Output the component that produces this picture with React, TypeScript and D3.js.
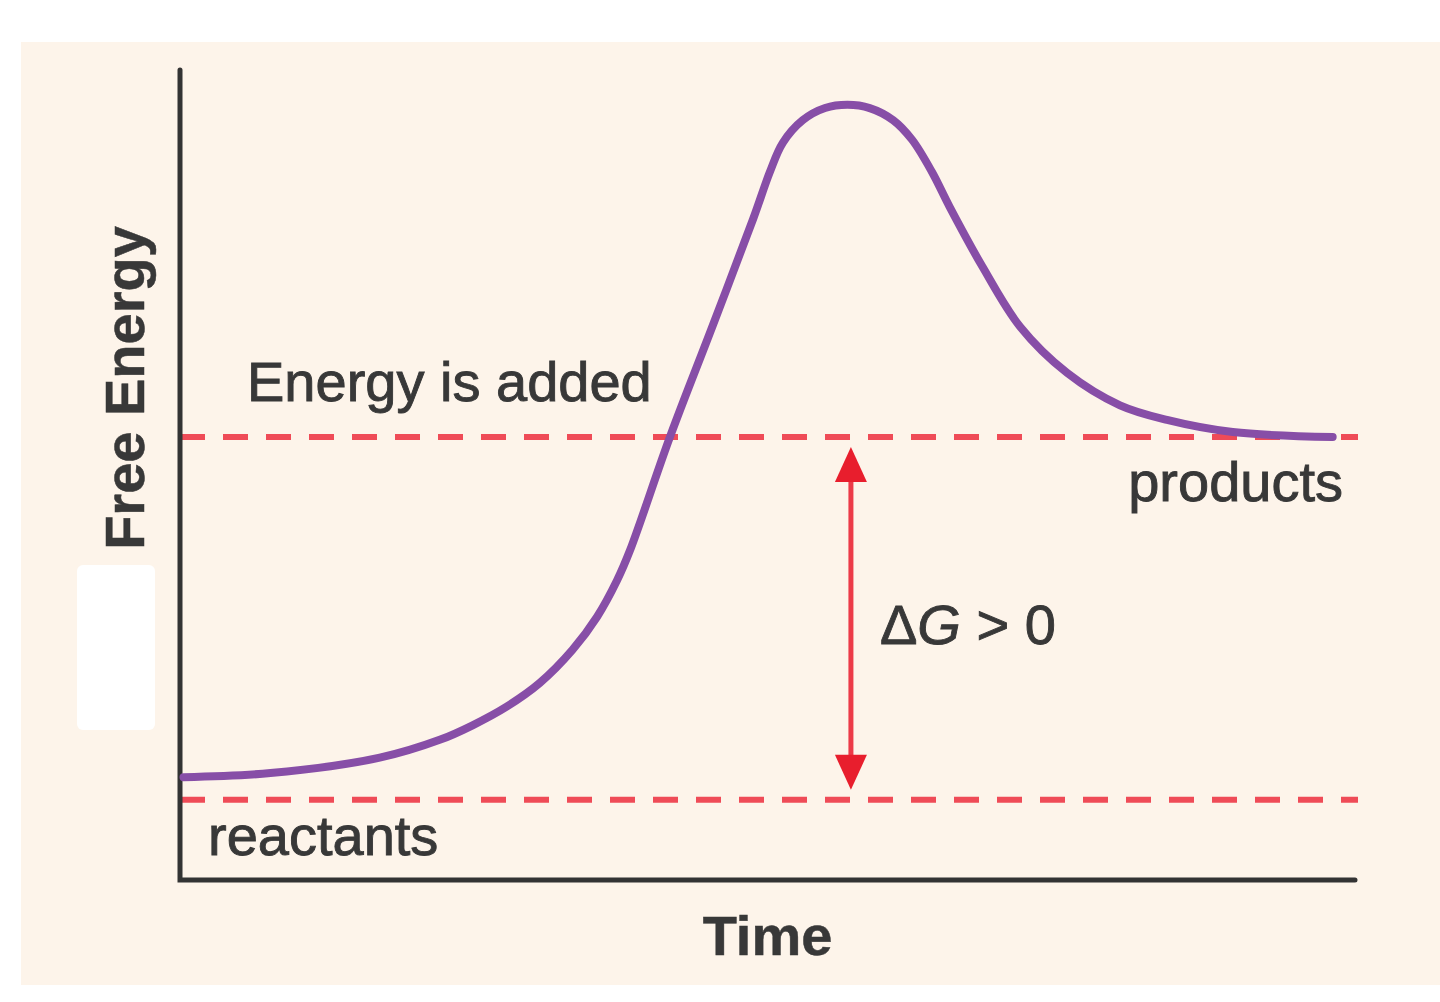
import { useEffect, useRef } from "react";
import * as d3 from "d3";

// curve (time vs free energy, both 0..100)
const TIME = [0.3, 7.7, 17.0, 22.1, 24.9, 27.8, 30.6, 33.4, 35.5, 37.2, 38.3, 41.7, 45.3, 48.8, 50.2, 51.3, 53.0, 54.9, 56.8, 58.7, 60.7, 62.3, 64.0, 65.5, 68.3, 71.5, 75.5, 80.0, 84.0, 89.6, 98.1];
const ENERGY = [12.7, 13.2, 15.1, 17.3, 19.1, 21.4, 24.3, 28.4, 32.5, 37.0, 40.7, 54.7, 68.3, 81.7, 87.4, 91.0, 93.8, 95.3, 95.7, 95.3, 93.8, 91.4, 87.4, 83.1, 75.7, 68.3, 62.6, 58.6, 56.8, 55.3, 54.7];

const REACTANTS_LEVEL = 9.9;
const PRODUCTS_LEVEL = 54.7;
const ARROW_TIME = 57.1;

const LABELS = {
  added: "Energy is added",
  products: "products",
  reactants: "reactants",
  xTitle: "Time",
  yTitle: "Free Energy",
};

export default function App() {
  const ref = useRef<SVGSVGElement>(null);

  useEffect(() => {
    const width = 1440;
    const height = 1002;
    const font = "'Liberation Sans', Arial, sans-serif";
    const textColor = "#383838";
    const fontSize = 56;

    const svg = d3.select(ref.current);
    svg.selectAll("*").remove();

    const x = d3.scaleLinear().domain([0, 100]).range([180, 1355]);
    const y = d3.scaleLinear().domain([0, 100]).range([880, 70]);

    // background panel
    svg.append("rect").attr("width", width).attr("height", height).attr("fill", "#ffffff");
    svg
      .append("rect")
      .attr("x", 21)
      .attr("y", 42)
      .attr("width", width - 21)
      .attr("height", 943)
      .attr("fill", "#fdf4ea");

    // white smudge left of the axis
    svg
      .append("rect")
      .attr("x", 77)
      .attr("y", 565)
      .attr("width", 78)
      .attr("height", 165)
      .attr("rx", 6)
      .attr("fill", "#ffffff");

    // dashed levels
    [PRODUCTS_LEVEL, REACTANTS_LEVEL].forEach((lvl) => {
      svg
        .append("line")
        .attr("x1", x(0))
        .attr("x2", x(100) + 3)
        .attr("y1", y(lvl))
        .attr("y2", y(lvl))
        .attr("stroke", "#ef4b57")
        .attr("stroke-width", 6)
        .attr("stroke-dasharray", "25 18");
    });

    // axes
    svg
      .append("path")
      .attr("d", `M${x(0)},${y(100)} V${y(0)} H${x(100)}`)
      .attr("fill", "none")
      .attr("stroke", "#333")
      .attr("stroke-width", 5)
      .attr("stroke-linecap", "round")
      .attr("stroke-linejoin", "miter");

    // energy curve
    const line = d3
      .line<number>()
      .x((_, i) => x(TIME[i]))
      .y((d) => y(d))
      .curve(d3.curveCatmullRom.alpha(0.5));

    svg
      .append("path")
      .attr("d", line(ENERGY))
      .attr("fill", "none")
      .attr("stroke", "#874ea7")
      .attr("stroke-width", 8)
      .attr("stroke-linecap", "round");

    // delta G double arrow
    const ax = x(ARROW_TIME);
    const top = y(PRODUCTS_LEVEL) + 10;
    const bottom = y(REACTANTS_LEVEL) - 10;
    const headH = 35;
    const headW = 16;
    svg
      .append("line")
      .attr("x1", ax)
      .attr("x2", ax)
      .attr("y1", top + headH - 2)
      .attr("y2", bottom - headH + 2)
      .attr("stroke", "#ec3a48")
      .attr("stroke-width", 5);
    svg
      .append("path")
      .attr("d", `M${ax},${top} L${ax + headW},${top + headH} L${ax - headW},${top + headH} Z`)
      .attr("fill", "#e81e2d");
    svg
      .append("path")
      .attr("d", `M${ax},${bottom} L${ax + headW},${bottom - headH} L${ax - headW},${bottom - headH} Z`)
      .attr("fill", "#e81e2d");

    const label = (txt: string, tx: number, ty: number, anchor = "start", weight = "normal") =>
      svg
        .append("text")
        .attr("x", tx)
        .attr("y", ty)
        .attr("text-anchor", anchor)
        .attr("font-family", font)
        .attr("font-size", fontSize)
        .attr("font-weight", weight)
        .attr("fill", textColor)
        .attr("stroke", textColor)
        .attr("stroke-width", weight === "bold" ? 0.5 : 0.9)
        .text(txt);

    label(LABELS.added, x(0) + 67, y(PRODUCTS_LEVEL) - 36);
    label(LABELS.products, x(100) - 12, y(PRODUCTS_LEVEL) + 64, "end");
    label(LABELS.reactants, x(0) + 28, y(REACTANTS_LEVEL) + 55);

    // ΔG > 0 with italic G
    const dg = svg
      .append("text")
      .attr("x", ax + 29)
      .attr("y", (y(PRODUCTS_LEVEL) + y(REACTANTS_LEVEL)) / 2 + 26)
      .attr("font-family", font)
      .attr("font-size", fontSize)
      .attr("fill", textColor)
      .attr("stroke", textColor)
      .attr("stroke-width", 0.9);
    dg.append("tspan").text("Δ");
    dg.append("tspan").attr("font-style", "italic").text("G");
    dg.append("tspan").text(" > 0");

    label(LABELS.xTitle, (x(0) + x(100)) / 2, 955, "middle", "bold");

    svg
      .append("text")
      .attr("transform", `translate(144, 388) rotate(-90)`)
      .attr("text-anchor", "middle")
      .attr("font-family", font)
      .attr("font-size", fontSize)
      .attr("font-weight", "bold")
      .attr("fill", textColor)
      .attr("stroke", textColor)
      .attr("stroke-width", 0.5)
      .text(LABELS.yTitle);
  }, []);

  return (
    <svg
      ref={ref}
      width={1440}
      height={1002}
      style={{ position: "absolute", left: 0, top: 0, display: "block" }}
    />
  );
}
